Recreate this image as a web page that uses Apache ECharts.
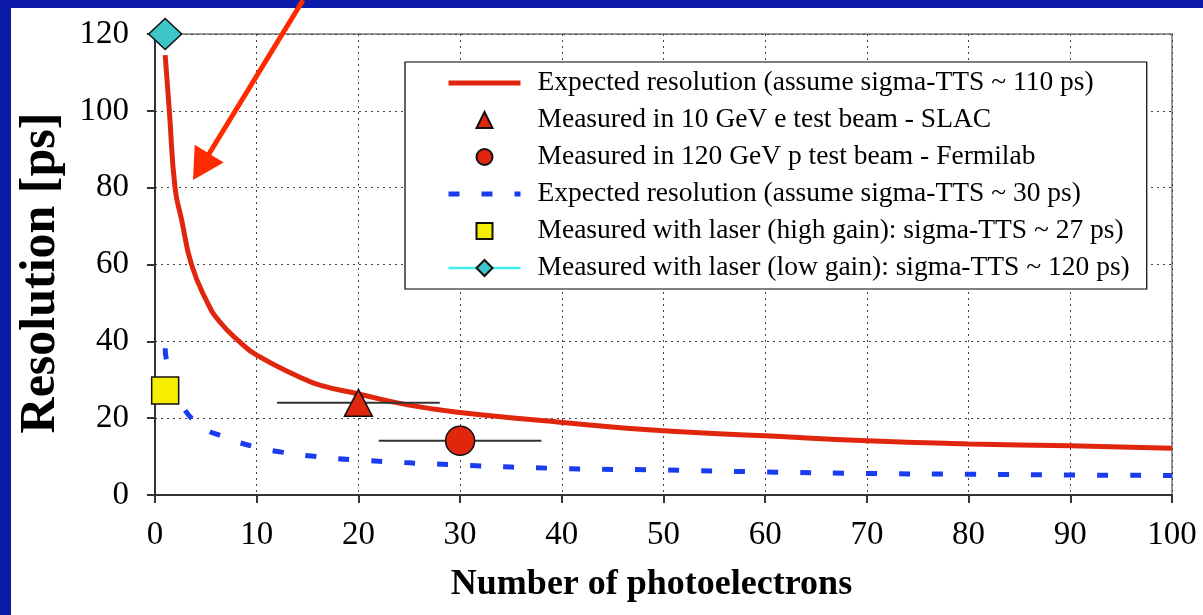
<!DOCTYPE html>
<html><head><meta charset="utf-8">
<script src="https://cdn.jsdelivr.net/npm/echarts@6/dist/echarts.min.js"></script>
<style>
html,body{margin:0;padding:0;}
#wrap{position:relative;width:1203px;height:615px;background:#0b1aa8;overflow:hidden;}
#panel{position:absolute;left:11px;top:8px;right:0;bottom:0;background:#fff;}
#c{position:absolute;left:0;top:0;width:1203px;height:615px;}
</style>
</head><body>
<div id="wrap"><div id="panel"></div><div id="c"></div></div>
<script>
// ---- data ----
const redN   = [1, 1.41, 1.97, 2.62, 3.6, 5.08, 6.3, 8.36, 10, 14.3, 16.2, 20, 25, 30, 40, 50, 60, 70, 80, 90, 100];
const redV   = [114.5, 100, 80, 71.6, 59.9, 50.5, 45.3, 39.8, 36.4, 30.6, 28.6, 26.3, 23.4, 21.5, 18.9, 16.7, 15.4, 14.1, 13.3, 12.8, 12.2];
const blueN  = [1, 1.1, 1.7, 2.6, 4.6, 6.7, 9.7, 12.6, 15.9, 20, 30, 40, 50, 60, 70, 80, 90, 100];
const blueV  = [38.2, 35.6, 29, 23.4, 17.8, 15.2, 12.6, 11.1, 10.0, 9.1, 7.8, 6.9, 6.5, 6.0, 5.6, 5.4, 5.2, 5.1];
const slacPoint   = [20, 24];
const slacErrX    = [12, 28];
const fermiPoint  = [30, 14.1];
const fermiErrX   = [22, 38];
const laserHigh   = [1, 27.2];
const laserLow    = [1, 120];
const arrowFrom   = [14.55, 128.8];
const arrowTo     = [3.74, 82];
const names = [
  'Expected resolution (assume sigma-TTS ~ 110 ps)',
  'Measured in 10 GeV e test beam - SLAC',
  'Measured in 120 GeV p test beam - Fermilab',
  'Expected resolution (assume sigma-TTS ~ 30 ps)',
  'Measured with laser (high gain): sigma-TTS ~ 27 ps)',
  'Measured with laser (low gain): sigma-TTS ~ 120 ps)'
];
const xName = 'Number of photoelectrons';
const yName = 'Resolution [ps]';

// ---- chart ----
const FONT = '"Liberation Serif","Times New Roman",serif';
const zip = (a, b) => a.map((v, i) => [v, b[i]]);
const chart = echarts.init(document.getElementById('c'), null, {renderer: 'canvas'});

const axisCommon = {
  axisLine: {show: true, lineStyle: {color: '#333', width: 2}},
  axisTick: {show: true, inside: false, length: 8, lineStyle: {color: '#333', width: 2}},
  splitLine: {show: true, lineStyle: {color: '#444', width: 1, type: [2, 4]}}
};
const hiddenLine = {width: 0, opacity: 0};
const pointSeries = (name, pt, symbol, size, color) => ({
  name, type: 'line', data: [pt], showSymbol: true, symbol, symbolSize: size,
  lineStyle: hiddenLine,
  itemStyle: {color, borderColor: '#111', borderWidth: 1.5, opacity: 1}, z: 6
});

const option = {
  animation: false,
  backgroundColor: 'transparent',
  grid: {left: 155, right: 31, top: 34, bottom: 120, show: true, borderColor: '#9a9a9a', borderWidth: 2, backgroundColor: 'transparent'},
  xAxis: Object.assign({}, axisCommon, {
    type: 'value', min: 0, max: 100, interval: 10,
    axisLabel: {fontFamily: FONT, fontSize: 33, color: '#000', margin: 24},
    name: xName, nameLocation: 'middle', nameGap: 72,
    nameTextStyle: {fontFamily: FONT, fontWeight: 'bold', color: '#000', fontSize: 36, padding: [0, 24, 0, 0]}
  }),
  yAxis: Object.assign({}, axisCommon, {
    type: 'value', min: 0, max: 120, interval: 20,
    axisLabel: {fontFamily: FONT, fontSize: 33, color: '#000', margin: 26},
    name: yName, nameLocation: 'middle', nameGap: 89, nameRotate: 90,
    nameTextStyle: {fontFamily: FONT, fontWeight: 'bold', color: '#000', fontSize: 50, padding: [0, 17, 0, 0]}
  }),
  legend: {
    orient: 'vertical', left: 405, top: 62,
    padding: [7, 17, 7, 41],
    itemWidth: 72, itemHeight: 20, itemGap: 9,
    backgroundColor: '#fff', borderColor: '#000', borderWidth: 1.2,
    selectedMode: false,
    lineStyle: {width: 'inherit'},
    textStyle: {fontFamily: FONT, fontSize: 27.5, lineHeight: 27, color: '#000', padding: [0, 0, 0, 12]},
    data: [
      {name: names[0], itemStyle: {opacity: 0}},
      {name: names[1]},
      {name: names[2]},
      {name: names[3], itemStyle: {opacity: 0}},
      {name: names[4]},
      {name: names[5]}
    ]
  },
  series: [
    {
      name: names[0], type: 'line', data: zip(redN, redV),
      smooth: 0.5, showSymbol: false, symbol: 'circle',
      lineStyle: {color: '#e1260e', width: 5}, itemStyle: {color: '#e1260e'}, z: 3
    },
    {
      name: 'errSLAC', type: 'line', data: slacErrX.map(x => [x, slacPoint[1]]),
      symbol: 'none', silent: true, lineStyle: {color: '#333', width: 2}, z: 4
    },
    pointSeries(names[1], slacPoint, 'triangle', [28, 27], '#e1260e'),
    {
      name: 'errFermi', type: 'line', data: fermiErrX.map(x => [x, fermiPoint[1]]),
      symbol: 'none', silent: true, lineStyle: {color: '#333', width: 2}, z: 4
    },
    pointSeries(names[2], fermiPoint, 'circle', 29, '#e1260e'),
    {
      name: names[3], type: 'line', data: zip(blueN, blueV),
      smooth: 0.5, showSymbol: false, symbol: 'circle',
      lineStyle: {color: '#1a3cf0', width: 5, type: [11, 22]}, itemStyle: {color: '#1a3cf0'}, z: 3
    },
    pointSeries(names[4], laserHigh, 'rect', 27, '#f6ee00'),
    {
      name: names[5], type: 'line', data: [laserLow], clip: false,
      showSymbol: true, symbol: 'diamond', symbolSize: [33, 31],
      lineStyle: {color: '#40eef0', width: 2.5},
      itemStyle: {color: '#3cc6c8', borderColor: '#111', borderWidth: 1.5}, z: 7
    }
  ]
};
chart.setOption(option);

// annotation arrow, positioned through the chart's own coordinate system
const p0 = chart.convertToPixel({gridIndex: 0}, arrowFrom);
const p1 = chart.convertToPixel({gridIndex: 0}, arrowTo);
const dx = p0[0] - p1[0], dy = p0[1] - p1[1];
const L = Math.sqrt(dx * dx + dy * dy);
const ux = dx / L, uy = dy / L;
const headLen = 31, headHalf = 17;
const bx = p1[0] + ux * headLen, by = p1[1] + uy * headLen;
chart.setOption({
  graphic: [
    {type: 'line', z: 100, shape: {x1: p0[0], y1: p0[1], x2: bx - ux * 2, y2: by - uy * 2},
     style: {stroke: '#ff2a00', lineWidth: 5}},
    {type: 'polygon', z: 100, shape: {points: [
      [p1[0], p1[1]],
      [bx - uy * headHalf, by + ux * headHalf],
      [bx + uy * headHalf, by - ux * headHalf]
    ]}, style: {fill: '#ff2a00'}}
  ]
});
</script>
</body></html>
